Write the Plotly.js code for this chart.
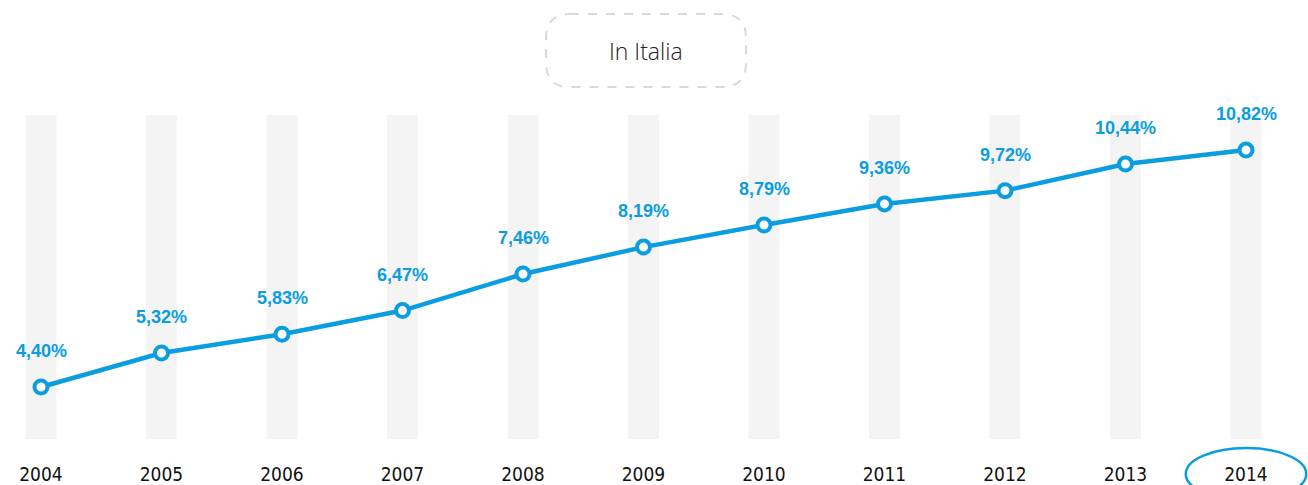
<!DOCTYPE html>
<html>
<head>
<meta charset="utf-8">
<script src="https://cdn.plot.ly/plotly-3.0.1.min.js"></script>
<style>html,body{margin:0;padding:0;background:#fff;}#chart{width:1308px;height:485px;}</style>
</head>
<body>
<div id="chart"></div>
<script>
const years = [2004, 2005, 2006, 2007, 2008, 2009, 2010, 2011, 2012, 2013, 2014];
const values = [4.40, 5.32, 5.83, 6.47, 7.46, 8.19, 8.79, 9.36, 9.72, 10.44, 10.82];
const labels = ["4,40%", "5,32%", "5,83%", "6,47%", "7,46%", "8,19%", "8,79%", "9,36%", "9,72%", "10,44%", "10,82%"];
const tickLabels = ["2004", "2005", "2006", "2007", "2008", "2009", "2010", "2011", "2012", "2013", "2014"];
const chartTitle = "In Italia";
const highlightYear = 2014;

const W = 1308, H = 485;
const mT = 115, mB = 46;
const plotH = H - mT - mB;
const blue = "#0a9de0";

const py = p => (H - mB - p) / plotH;
const px = p => p / W;

const shapes = [];
years.forEach(y => {
  shapes.push({type: "rect", xref: "x", yref: "paper", x0: y - 0.128, x1: y + 0.128, y0: 0, y1: 1,
    fillcolor: "#f4f4f4", line: {width: 0}, layer: "below"});
});

const bx0 = 546, bx1 = 746, by0 = 14, by1 = 87, r = 24;
const path = [
  "M", px(bx0 + r), py(by0),
  "L", px(bx1 - r), py(by0),
  "Q", px(bx1), py(by0), px(bx1), py(by0 + r),
  "L", px(bx1), py(by1 - r),
  "Q", px(bx1), py(by1), px(bx1 - r), py(by1),
  "L", px(bx0 + r), py(by1),
  "Q", px(bx0), py(by1), px(bx0), py(by1 - r),
  "L", px(bx0), py(by0 + r),
  "Q", px(bx0), py(by0), px(bx0 + r), py(by0), "Z"
];
let pstr = "";
for (let i = 0; i < path.length; i++) {
  const t = path[i];
  if (typeof t === "string") pstr += t; else pstr += t.toFixed(5) + (typeof path[i+1] === "number" ? "," : " ");
}
shapes.push({type: "path", xref: "paper", yref: "paper", path: pstr,
  line: {color: "#d9d9d9", width: 2, dash: "dash"}, fillcolor: "rgba(0,0,0,0)"});

shapes.push({type: "circle", xref: "x", yref: "paper", x0: highlightYear - 0.5, x1: highlightYear + 0.5,
  y0: py(500), y1: py(448), line: {color: blue, width: 2.5}});

const annotations = years.map((y, i) => ({
  x: y, y: values[i], xref: "x", yref: "y", text: labels[i], showarrow: false,
  yshift: 36, font: {family: "Liberation Sans, Arial, sans-serif", size: 18, color: blue, weight: 700}
}));
annotations.push({xref: "paper", yref: "paper", x: px(646), y: py(51), xanchor: "center", yanchor: "middle",
  text: chartTitle, showarrow: false,
  font: {family: "Open Sans, sans-serif", size: 23, color: "#222", weight: 300}});

const trace = {
  x: years, y: values, type: "scatter", mode: "lines+markers",
  line: {color: blue, width: 4.5},
  marker: {size: 13, color: "#fff", line: {color: blue, width: 4}},
  hoverinfo: "skip", cliponaxis: false
};

const xr0 = 2004 - 41 / 120.5;
const xr1 = xr0 + W / 120.5;

const layout = {
  width: W, height: H,
  margin: {l: 0, r: 0, t: mT, b: mB, pad: 0},
  paper_bgcolor: "#fff", plot_bgcolor: "#fff",
  showlegend: false,
  xaxis: {range: [xr0, xr1], tickvals: years, ticktext: tickLabels, showgrid: false, zeroline: false,
    showline: false, ticks: "", ticklabelstandoff: 22,
    tickfont: {family: "DejaVu Sans Condensed, DejaVu Sans, sans-serif", size: 19, color: "#111"}, fixedrange: true},
  yaxis: {range: [2.99, 11.77], visible: false, showgrid: false, zeroline: false, fixedrange: true},
  shapes: shapes,
  annotations: annotations
};

Plotly.newPlot("chart", [trace], layout, {displayModeBar: false, staticPlot: true});
</script>
</body>
</html>
